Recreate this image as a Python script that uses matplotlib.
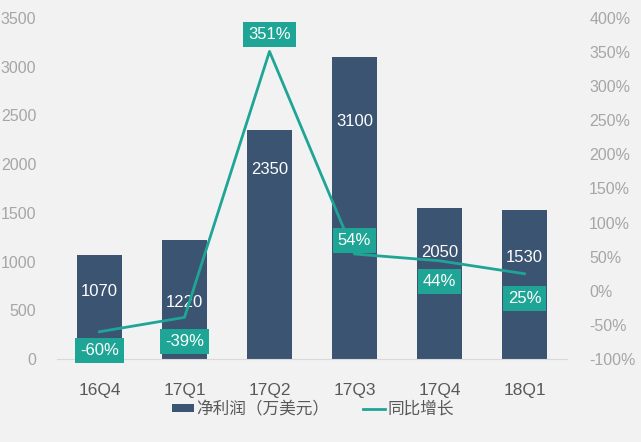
import matplotlib.pyplot as plt
import numpy as np

plt.rcParams['font.family'] = ['Liberation Sans', 'Noto Sans CJK SC', 'DejaVu Sans']

quarters = ['16Q4', '17Q1', '17Q2', '17Q3', '17Q4', '18Q1']
profit = [1070, 1220, 2350, 3100, 1550, 1530]          # bar heights as drawn
profit_labels = ['1070', '1220', '2350', '3100', '2050', '1530']
growth = [-60, -39, 351, 54, 44, 25]                   # %

# label placement (data units)
profit_label_y = [690, 575, 1940, 2435, 1090, 1040]
growth_label_y = [-88, -75, 376, 74, 13, -12]

bg = '#f2f2f2'
bar_c = '#3b5472'
teal = '#1fa596'
grey = '#a6a6a6'

fig = plt.figure(figsize=(6.41, 4.42), dpi=100, facecolor=bg)
ax = fig.add_axes([57/641, 1-359/442, 510/641, 341/442], facecolor=bg)
ax2 = ax.twinx()

x = np.arange(len(quarters))
ax.bar(x, profit, width=0.52, color=bar_c, label='净利润（万美元）', zorder=2)
ax.set_ylim(0, 3500)
ax.set_xlim(-0.5, 5.5)
ax.set_yticks(np.arange(0, 3501, 500))
ax.set_xticks(x)
ax.set_xticklabels(quarters, fontsize=12.5, color='#595959')
ax.tick_params(axis='y', colors=grey, labelsize=11.5, length=0, pad=15)
ax.tick_params(axis='x', length=0, pad=17)
for s in ax.spines.values():
    s.set_visible(False)
ax.spines['bottom'].set_visible(True)
ax.spines['bottom'].set_color('#d9d9d9')

for xi, lab, yy in zip(x, profit_labels, profit_label_y):
    ax.text(xi, yy, lab, ha='center', va='center', color='white', fontsize=12, zorder=5)

ax2.plot(x, growth, color=teal, lw=2, label='同比增长', zorder=3)
ax2.set_ylim(-100, 400)
ax2.set_yticks(np.arange(-100, 401, 50))
ax2.set_yticklabels([f'{v}%' for v in range(-100, 401, 50)])
ax2.tick_params(axis='y', colors=grey, labelsize=11.5, length=0, pad=16)
for s in ax2.spines.values():
    s.set_visible(False)

for xi, g, yy in zip(x, growth, growth_label_y):
    ax2.text(xi, yy, f'{g}%', ha='center', va='center', color='white', fontsize=12, zorder=6,
             bbox=dict(boxstyle='square,pad=0.3', fc=teal, ec='none'))

h1, l1 = ax.get_legend_handles_labels()
h2, l2 = ax2.get_legend_handles_labels()
fig.legend(h1 + h2, l1 + l2, loc='center', bbox_to_anchor=(313/641, 1-409/442), ncol=2,
           frameon=False, fontsize=12, labelcolor='#595959', handlelength=1.3,
           handleheight=0.35, columnspacing=2.0, handletextpad=0.15)

fig.savefig('out.png', dpi=100, facecolor=bg)
